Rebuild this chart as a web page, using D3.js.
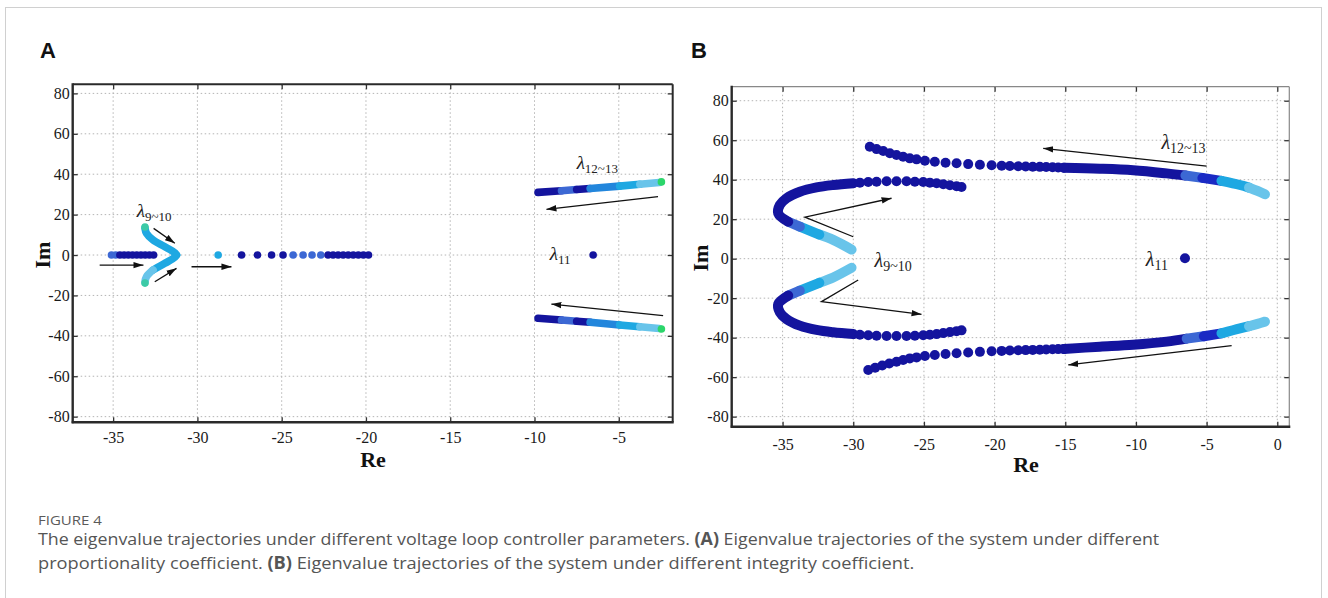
<!DOCTYPE html>
<html><head><meta charset="utf-8">
<script src="https://cdn.jsdelivr.net/npm/d3@7"></script>
<style>body{margin:0;background:#fff}</style></head>
<body><svg id="c" width="1328" height="598" xmlns="http://www.w3.org/2000/svg"></svg>
<script>
// ---------- data ----------
const xTicksA = [-35,-30,-25,-20,-15,-10,-5];
const xTicksB = [-35,-30,-25,-20,-15,-10,-5,0];
const yTicks = [-80,-60,-40,-20,0,20,40,60,80];
const xDomainA = [-37.4,-1.8], yDomainA = [-82.8,84.5];
const xDomainB = [-38.6,0.85], yDomainB = [-85.1,87.1];

// colour keys: N navy, D dark blue, M medium blue, B blue, C cyan, L light blue, G green, T teal
// Panel A: individual eigenvalue dots [Re, Im, colour]
const A_dots = [
 [-35.1,0,'M'],[-34.85,0,'M'],[-34.6,0,'N'],[-34.35,0,'N'],[-34.1,0,'N'],[-33.85,0,'N'],
 [-33.6,0,'N'],[-33.35,0,'N'],[-33.1,0,'N'],[-32.85,0,'N'],[-32.6,0,'N'],
 [-28.77,0,'C'],[-27.38,0,'N'],[-26.44,0,'N'],[-25.6,0,'N'],[-24.92,0,'N'],
 [-24.32,0,'M'],[-23.73,0,'M'],[-23.2,0,'M'],[-22.68,0,'M'],
 [-22.25,0,'N'],[-21.95,0,'N'],[-21.65,0,'N'],[-21.35,0,'N'],[-21.05,0,'N'],
 [-20.75,0,'N'],[-20.45,0,'N'],[-20.15,0,'N'],[-19.85,0,'N'],
 [-6.52,0,'N'],
 [-33.11,13.9,'T'],[-33.11,-13.9,'T'],[-2.47,36.2,'G'],[-2.47,-36.6,'G']
];
// Panel A: dense trajectory pieces drawn as thick strokes
const A_strokes = [
 {c:'C', pts:[[-31.24,0],[-31.34,1.1],[-31.93,4.1],[-32.63,7.4],[-33.02,10.7],[-33.11,13.2]]},
 {c:'C', pts:[[-31.24,0],[-31.34,-1.1],[-31.93,-4.1],[-32.63,-7.4]]},
 {c:'L', pts:[[-32.63,-7.4],[-33.02,-10.7],[-33.11,-13.2]]},
 {c:'N', pts:[[-9.79,31.0],[-8.4,31.8]]},
 {c:'M', pts:[[-8.4,31.8],[-7.5,32.4]]},
 {c:'N', pts:[[-7.5,32.4],[-6.7,32.9]]},
 {c:'B', pts:[[-6.7,32.9],[-4.95,34.1]]},
 {c:'C', pts:[[-4.95,34.1],[-3.75,35.0]]},
 {c:'L', pts:[[-3.75,35.0],[-2.6,35.9]]},
 {c:'N', pts:[[-9.79,-31.3],[-8.4,-32.2]]},
 {c:'M', pts:[[-8.4,-32.2],[-7.5,-32.8]]},
 {c:'N', pts:[[-7.5,-32.8],[-6.7,-33.3]]},
 {c:'B', pts:[[-6.7,-33.3],[-4.95,-34.6]]},
 {c:'C', pts:[[-4.95,-34.6],[-3.75,-35.5]]},
 {c:'L', pts:[[-3.75,-35.5],[-2.6,-36.4]]}
];
const A_arrows = [
 [[-35.8,-5],[-33.2,-5]],
 [[-32.6,13.2],[-31.34,5.8]],
 [[-32.53,-13.2],[-31.24,-6.6]],
 [[-30.35,-5.8],[-27.98,-5.8]],
 [[-2.67,28.9],[-9.29,22.6]],
 [[-2.37,-30.0],[-9.0,-24.3]]
];
const A_labels = [
 {re:-33.6, im:18.8, sub:'9~10'},
 {re:-9.1, im:-2.5, sub:'11'},
 {re:-7.5, im:42.5, sub:'12~13'}
];

// Panel B
const B_outerUpperDots = [
 [-28.83,56.7],[-28.35,55.5],[-27.88,54.5],[-27.41,53.4],[-26.94,52.5],[-26.47,51.6],
 [-26.0,50.8],[-25.52,50.3],[-24.93,49.6],[-24.23,49.1],[-23.47,48.6],[-22.69,48.3],
 [-21.87,47.9],[-21.04,47.6],[-20.21,47.3],[-19.5,47.1],[-18.92,46.9],[-18.33,46.8],
 [-17.8,46.7],[-17.3,46.6],[-16.8,46.5],[-16.35,46.4],[-15.9,46.3],[-15.5,46.2],[-15.1,46.1]
];
const B_outerLowerDots = [
 [-28.94,-56.4],[-28.45,-55.2],[-27.95,-54.1],[-27.45,-53.1],[-26.94,-52.2],[-26.47,-51.3],
 [-26.0,-50.5],[-25.52,-50.0],[-24.93,-49.3],[-24.23,-48.8],[-23.47,-48.3],[-22.69,-47.9],
 [-21.87,-47.5],[-21.04,-47.2],[-20.21,-46.9],[-19.5,-46.7],[-18.92,-46.5],[-18.33,-46.4],
 [-17.8,-46.3],[-17.3,-46.2],[-16.8,-46.1],[-16.35,-46.0],[-15.9,-45.9],[-15.5,-45.8],[-15.1,-45.7]
];
const B_innerUpperDots = [
 [-29.53,38.5],[-28.94,38.8],[-28.35,39.0],[-27.64,39.2],[-26.94,39.2],[-26.23,39.2],
 [-25.64,39.0],[-25.05,38.8],[-24.58,38.5],[-24.1,38.2],[-23.63,37.7],[-23.16,37.2],
 [-22.69,36.7],[-22.34,36.3]
];
const B_innerLowerDots = [
 [-29.53,-38.5],[-28.94,-38.8],[-28.35,-39.0],[-27.64,-39.2],[-26.94,-39.2],[-26.23,-39.2],
 [-25.64,-39.0],[-25.05,-38.8],[-24.58,-38.5],[-24.1,-38.2],[-23.63,-37.7],[-23.16,-37.2],
 [-22.69,-36.7],[-22.34,-36.3]
];
const B_singleDots = [[-6.53,0.2]];
const B_strokes = [
 {c:'N', pts:[[-15.1,46.1],[-12.55,45.6],[-10.19,44.8],[-7.83,43.2],[-6.5,42.1]]},
 {c:'M', pts:[[-6.5,42.1],[-5.3,40.9]]},
 {c:'D', pts:[[-5.3,40.9],[-3.95,39.4]]},
 {c:'C', pts:[[-3.95,39.4],[-2.64,37.3],[-2.0,36.0]]},
 {c:'L', pts:[[-2.0,36.0],[-1.4,34.3],[-0.87,32.6]]},
 {c:'N', pts:[[-15.1,-45.7],[-12.55,-44.6],[-10.19,-43.6],[-7.83,-42.0],[-6.41,-40.5]]},
 {c:'M', pts:[[-6.41,-40.5],[-5.2,-39.3]]},
 {c:'D', pts:[[-5.2,-39.3],[-3.95,-37.8]]},
 {c:'C', pts:[[-3.95,-37.8],[-2.64,-35.3],[-2.0,-34.2]]},
 {c:'L', pts:[[-2.0,-34.2],[-1.4,-33.0],[-0.87,-31.9]]},
 {c:'L', pts:[[-30.12,4.6],[-31.42,9.5],[-32.4,12.2]]},
 {c:'C', pts:[[-32.4,12.2],[-33.78,16.2]]},
 {c:'M', pts:[[-33.78,16.2],[-34.6,18.7]]},
 {c:'N', pts:[[-34.6,18.7],[-35.31,23.0],[-35.19,27.2],[-34.72,30.6],[-33.78,33.9],[-32.6,36.1],[-31.42,37.3],[-30.0,38.2]]},
 {c:'L', pts:[[-30.12,-4.6],[-31.42,-9.5],[-32.4,-12.2]]},
 {c:'C', pts:[[-32.4,-12.2],[-33.78,-16.2]]},
 {c:'M', pts:[[-33.78,-16.2],[-34.6,-18.7]]},
 {c:'N', pts:[[-34.6,-18.7],[-35.31,-23.0],[-35.19,-27.2],[-34.72,-30.6],[-33.78,-33.9],[-32.6,-36.1],[-31.42,-37.3],[-30.0,-38.2]]}
];
const B_arrows = [
 [[-5.0,46.9],[-16.56,55.9]],
 [[-3.23,-44.0],[-14.79,-53.8]],
 [[-30.0,11.1],[-33.42,21.0],[-27.29,30.6]],
 [[-29.65,-10.8],[-32.25,-21.8],[-25.17,-28.2]]
];
const B_labels = [
 {re:-28.5, im:-4.4, sub:'9~10'},
 {re:-9.3, im:-3.9, sub:'11'},
 {re:-8.2, im:55.8, sub:'12~13'}
];

const palette = {N:'#14149e', D:'#1a2ac4', M:'#3c68d4', B:'#2286dc', C:'#1ea8e2', L:'#68c4ea', G:'#2cd66a', T:'#3ccaa6'};

// ---------- drawing ----------
const svg = d3.select('#c');
svg.append('rect').attr('x',5.5).attr('y',7.5).attr('width',1316).attr('height',640)
  .attr('fill','none').attr('stroke','#d0d0d0').attr('stroke-width',1);

const defs = svg.append('defs');
defs.append('marker').attr('id','ah').attr('viewBox','0 -4 10 8')
  .attr('refX',10).attr('refY',0).attr('markerWidth',10).attr('markerHeight',8)
  .attr('markerUnits','userSpaceOnUse').attr('orient','auto')
  .append('path').attr('d','M0,-3.2L10,0L0,3.2Z').attr('fill','#111');

const serif = "'Liberation Serif','Times New Roman',serif";

function panel(cfg){
  const g = svg.append('g');
  const x = d3.scaleLinear().domain(cfg.xDom).range([cfg.box.l, cfg.box.r]);
  const y = d3.scaleLinear().domain(cfg.yDom).range([cfg.box.b, cfg.box.t]);
  // grid
  g.selectAll('.gx').data(cfg.xTicks).join('line')
    .attr('x1',d=>x(d)).attr('x2',d=>x(d)).attr('y1',cfg.box.t).attr('y2',cfg.box.b)
    .attr('stroke','#b4b4b4').attr('stroke-width',1).attr('stroke-dasharray','1.5,2.5');
  g.selectAll('.gy').data(yTicks).join('line')
    .attr('y1',d=>y(d)).attr('y2',d=>y(d)).attr('x1',cfg.box.l).attr('x2',cfg.box.r)
    .attr('stroke','#b4b4b4').attr('stroke-width',1).attr('stroke-dasharray','1.5,2.5');
  // axes
  const fmt = d=>String(d);
  const styleAx = (sel, labels)=>{
    sel.select('.domain').remove();
    sel.selectAll('line').attr('stroke','#333').attr('stroke-width',1.3);
    sel.selectAll('text').attr('font-family',serif).attr('font-size',16).attr('fill','#1a1a1a');
    if(!labels) sel.selectAll('text').remove();
  };
  g.append('g').attr('transform',`translate(0,${cfg.box.b})`)
    .call(d3.axisBottom(x).tickValues(cfg.xTicks).tickFormat(fmt).tickSize(-5).tickPadding(cfg.xPad))
    .call(s=>styleAx(s,true));
  g.append('g').attr('transform',`translate(0,${cfg.box.t})`)
    .call(d3.axisTop(x).tickValues(cfg.xTicks).tickSize(-5)).call(s=>styleAx(s,false));
  g.append('g').attr('transform',`translate(${cfg.box.l},0)`)
    .call(d3.axisLeft(y).tickValues(yTicks).tickFormat(fmt).tickSize(-5).tickPadding(3))
    .call(s=>styleAx(s,true));
  g.append('g').attr('transform',`translate(${cfg.box.r},0)`)
    .call(d3.axisRight(y).tickValues(yTicks).tickSize(-5)).call(s=>styleAx(s,false));
  // frame
  g.append('line').attr('x1',cfg.box.l).attr('x2',cfg.box.r).attr('y1',cfg.box.t).attr('y2',cfg.box.t)
    .attr('stroke',cfg.thinCol).attr('stroke-width',cfg.thinW);
  g.append('line').attr('x1',cfg.box.r).attr('x2',cfg.box.r).attr('y1',cfg.box.t).attr('y2',cfg.box.b)
    .attr('stroke',cfg.thinCol).attr('stroke-width',cfg.thinW);
  g.append('line').attr('x1',cfg.box.l).attr('x2',cfg.box.l).attr('y1',cfg.box.t-1).attr('y2',cfg.box.b+1)
    .attr('stroke','#2a2a2a').attr('stroke-width',2.4);
  g.append('line').attr('x1',cfg.box.l-1).attr('x2',cfg.box.r+1).attr('y1',cfg.box.b).attr('y2',cfg.box.b)
    .attr('stroke','#2a2a2a').attr('stroke-width',2.4);

  // strokes
  const line = d3.line().x(d=>x(d[0])).y(d=>y(d[1])).curve(d3.curveCatmullRom);
  g.selectAll('.st').data(cfg.strokes).join('path')
    .attr('d',d=>line(d.pts)).attr('fill','none').attr('stroke',d=>palette[d.c])
    .attr('stroke-width',cfg.r*2).attr('stroke-linecap','round').attr('stroke-linejoin','round');
  // dots
  g.selectAll('.dt').data(cfg.dots).join('circle')
    .attr('cx',d=>x(d[0])).attr('cy',d=>y(d[1])).attr('r',cfg.r).attr('fill',d=>palette[d[2]||'N']);
  // arrows
  const aline = d3.line().x(d=>x(d[0])).y(d=>y(d[1]));
  g.selectAll('.ar').data(cfg.arrows).join('path')
    .attr('d',d=>aline(d)).attr('fill','none').attr('stroke','#111').attr('stroke-width',1.3)
    .attr('marker-end','url(#ah)');
  // lambda labels
  cfg.labels.forEach(l=>{
    const t = g.append('text').attr('x',x(l.re)).attr('y',y(l.im))
      .attr('font-family',serif).attr('fill','#222');
    t.append('tspan').text('λ').attr('font-size',cfg.lamSize).attr('font-style','italic');
    t.append('tspan').text(l.sub).attr('font-size',cfg.subSize).attr('dy',4);
  });
  // axis titles
  g.append('text').text('Re').attr('x',cfg.reX).attr('y',cfg.reY).attr('text-anchor','middle')
    .attr('font-family',serif).attr('font-weight','bold').attr('font-size',22).attr('fill','#111');
  g.append('text').text('Im').attr('transform',`translate(${cfg.imX},${cfg.imY}) rotate(-90)`)
    .attr('text-anchor','middle').attr('font-family',serif).attr('font-weight','bold')
    .attr('font-size',22).attr('fill','#111');
}

panel({xDom:xDomainA, yDom:yDomainA, box:{l:72.7,r:672.7,t:84.3,b:422.3}, xTicks:xTicksA,
  strokes:A_strokes, dots:A_dots, arrows:A_arrows, labels:A_labels, r:3.8,
  lamSize:19, subSize:13, xPad:9, thinCol:'#2a2a2a', thinW:2,
  reX:373, reY:467, imX:50, imY:255});

const bDots = [].concat(
  B_outerUpperDots.map(d=>[d[0],d[1],'N']), B_outerLowerDots.map(d=>[d[0],d[1],'N']),
  B_innerUpperDots.map(d=>[d[0],d[1],'N']), B_innerLowerDots.map(d=>[d[0],d[1],'N']),
  B_singleDots.map(d=>[d[0],d[1],'N']));
panel({xDom:xDomainB, yDom:yDomainB, box:{l:731.7,r:1289.3,t:86.7,b:426.7}, xTicks:xTicksB,
  strokes:B_strokes, dots:bDots, arrows:B_arrows, labels:B_labels, r:5,
  lamSize:20, subSize:14, xPad:12, thinCol:'#888', thinW:1.2,
  reX:1026, reY:472, imX:708, imY:258});

// panel letters
svg.append('text').text('A').attr('x',40).attr('y',58).attr('font-family',"'Liberation Sans',Arial,sans-serif")
  .attr('font-weight','bold').attr('font-size',22).attr('fill','#111');
svg.append('text').text('B').attr('x',691).attr('y',58).attr('font-family',"'Liberation Sans',Arial,sans-serif")
  .attr('font-weight','bold').attr('font-size',22).attr('fill','#111');

// caption
const capFont = "'Open Sans','Noto Sans',sans-serif";
function capLine(parts, yBase, size, targetW, color){
  const t = svg.append('text').attr('x',0).attr('y',0).attr('font-family',capFont)
    .attr('font-size',size).attr('fill',color);
  parts.forEach(p=>t.append('tspan').text(p[0]).attr('font-weight',p[1]?'bold':'normal'));
  const w = t.node().getComputedTextLength();
  t.attr('transform',`translate(38,${yBase}) scale(${targetW/w},1)`);
}
capLine([['FIGURE 4',false]], 525, 12.5, 64, '#5a5a5a');
capLine([['The eigenvalue trajectories under different voltage loop controller parameters. ',false],['(A)',true],[' Eigenvalue trajectories of the system under different',false]], 545, 17, 1122, '#555');
capLine([['proportionality coefficient. ',false],['(B)',true],[' Eigenvalue trajectories of the system under different integrity coefficient.',false]], 569, 17, 877, '#555');
</script></body></html>
